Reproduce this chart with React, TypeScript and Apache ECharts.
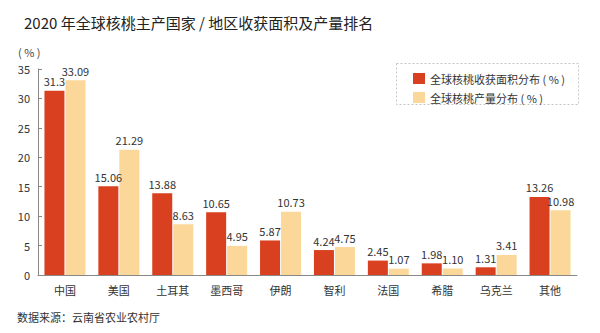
import React, { useEffect, useRef } from "react";
import * as echarts from "echarts";

const categories = ["中国", "美国", "土耳其", "墨西哥", "伊朗", "智利", "法国", "希腊", "乌克兰", "其他"];
const areaShare = [31.3, 15.06, 13.88, 10.65, 5.87, 4.24, 2.45, 1.98, 1.31, 13.26];
const outputShare = [33.09, 21.29, 8.63, 4.95, 10.73, 4.75, 1.07, 1.1, 3.41, 10.98];
const areaLabels = ["31.3", "15.06", "13.88", "10.65", "5.87", "4.24", "2.45", "1.98", "1.31", "13.26"];
const outputLabels = ["33.09", "21.29", "8.63", "4.95", "10.73", "4.75", "1.07", "1.10", "3.41", "10.98"];
const seriesNames = ["全球核桃收获面积分布 ( % )", "全球核桃产量分布 ( % )"];

const FONT = "'Noto Sans CJK SC', 'Noto Sans', sans-serif";

export default function App() {
  const ref = useRef<HTMLDivElement>(null);
  useEffect(() => {
    const chart = echarts.init(ref.current!, null, { renderer: "svg" });
    chart.setOption({
      animation: false,
      textStyle: { fontFamily: FONT },
      title: {
        text: "2020 年全球核桃主产国家 / 地区收获面积及产量排名",
        left: 19,
        top: 10,
        textStyle: { fontSize: 15, fontWeight: "normal", color: "#222", fontFamily: FONT },
      },
      graphic: [
        {
          type: "text",
          left: 18,
          top: 46,
          style: { text: "( % )", fontSize: 11, fill: "#444", fontFamily: FONT },
        },
        {
          type: "text",
          left: 17,
          top: 311,
          style: { text: "数据来源：云南省农业农村厅", fontSize: 11, fill: "#333", fontFamily: FONT },
        },
        {
          type: "rect",
          left: 396,
          top: 63,
          shape: { width: 182, height: 41 },
          style: { fill: "#fff", stroke: "#c4c4c4", lineDash: [2, 2], lineWidth: 1 },
          z: 0,
        },
      ],
      legend: {
        orient: "vertical",
        left: 408,
        top: 68,
        itemWidth: 12,
        itemHeight: 11,
        itemGap: 8,
        icon: "rect",
        textStyle: { fontSize: 11, color: "#333", fontFamily: FONT },
        data: seriesNames,
        z: 5,
      },
      grid: { left: 38, right: 23, top: 69, bottom: 58 },
      xAxis: {
        type: "category",
        data: categories,
        axisLine: { lineStyle: { color: "#888" } },
        axisTick: { inside: true, length: 4, lineStyle: { color: "#888" } },
        axisLabel: { fontSize: 11, color: "#333", margin: 9, fontFamily: FONT },
      },
      yAxis: {
        type: "value",
        min: 0,
        max: 35,
        interval: 5,
        splitLine: { show: false },
        axisLine: { show: true, lineStyle: { color: "#888" } },
        axisTick: { show: true, inside: true, length: 4, lineStyle: { color: "#888" } },
        axisLabel: { fontSize: 11, color: "#333", margin: 8, fontFamily: FONT },
      },
      series: [
        {
          name: seriesNames[0],
          type: "bar",
          data: areaShare,
          barWidth: 20,
          barGap: "5%",
          itemStyle: { color: "#d9401f" },
          label: {
            show: true,
            position: "top",
            distance: 4,
            fontSize: 11,
            color: "#333",
            fontFamily: FONT,
            formatter: (p: any) => areaLabels[p.dataIndex],
          },
        },
        {
          name: seriesNames[1],
          type: "bar",
          data: outputShare,
          barWidth: 20,
          itemStyle: { color: "#fbd89a" },
          label: {
            show: true,
            position: "top",
            distance: 4,
            fontSize: 11,
            color: "#333",
            fontFamily: FONT,
            formatter: (p: any) => outputLabels[p.dataIndex],
          },
        },
      ],
    });
    return () => chart.dispose();
  }, []);
  return <div ref={ref} style={{ width: 600, height: 333, position: "absolute", left: 0, top: 0, background: "#fff" }} />;
}
